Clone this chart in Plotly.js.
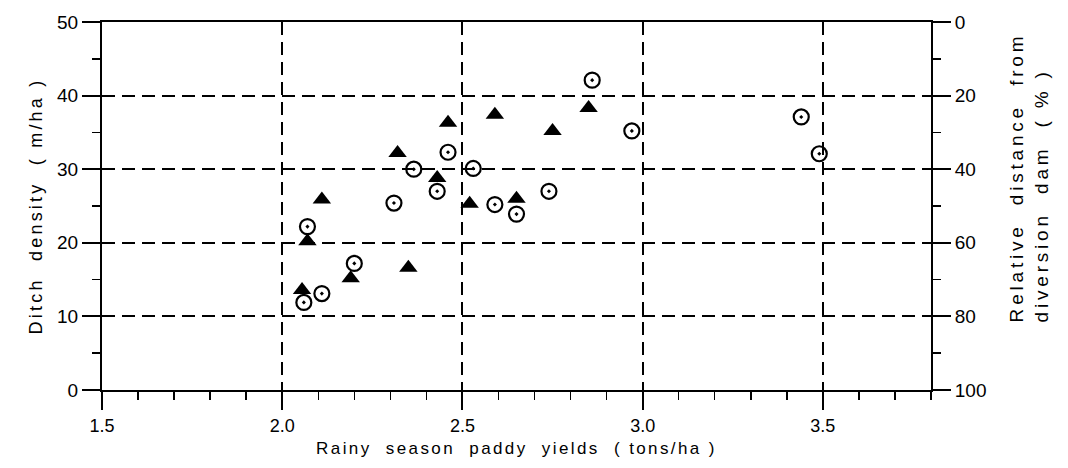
<!DOCTYPE html>
<html>
<head>
<meta charset="utf-8">
<script src="https://cdn.plot.ly/plotly-3.0.1.min.js"></script>
<style>
html,body{margin:0;padding:0;background:#fff;}
#chart{width:1068px;height:468px;}
.g-ytitle text{letter-spacing:3.2px;}
.g-xtitle text{letter-spacing:2.4px;}
.annotation-text-g text{letter-spacing:3.8px;}
</style>
</head>
<body>
<div id="chart"></div>
<script>
// Triangles (solid)
const triX = [2.46, 2.59, 2.32, 2.43, 2.11, 2.52, 2.65, 2.07, 2.19, 2.35, 2.055, 2.85, 2.75];
const triY = [36.3, 37.4, 32.2, 28.8, 25.9, 25.3, 26.0, 20.2, 15.2, 16.6, 13.6, 38.3, 35.2];
// Dotted circles
const cirX = [2.46, 2.365, 2.53, 2.43, 2.31, 2.59, 2.65, 2.07, 2.20, 2.11, 2.06, 2.86, 2.97, 2.74, 3.44, 3.49];
const cirY = [32.3, 30.0, 30.1, 27.0, 25.4, 25.2, 23.9, 22.2, 17.2, 13.1, 11.9, 42.1, 35.2, 27.0, 37.1, 32.1];
// Tick values
const xTicks = [1.5, 2.0, 2.5, 3.0, 3.5];
const yTicks = [0, 10, 20, 30, 40, 50];
const y2Ticks = [0, 20, 40, 60, 80, 100];

const FONT = 'Liberation Sans, Arial, sans-serif';
const sp = '\u00a0';

const traces = [
  {x: triX, y: triY, mode: 'markers', type: 'scatter',
   marker: {symbol: 'triangle-up', size: 16, color: '#000', line: {width: 0}},
   hoverinfo: 'skip', showlegend: false},
  {x: cirX, y: cirY, mode: 'markers', type: 'scatter',
   marker: {symbol: 'circle-open-dot', size: 15, color: '#000', line: {width: 2.2, color: '#000'}},
   hoverinfo: 'skip', showlegend: false},
  {x: [], y: [], yaxis: 'y2', type: 'scatter', mode: 'markers', showlegend: false, hoverinfo: 'skip'}
];

const layout = {
  width: 1068, height: 468,
  margin: {l: 102, r: 137, t: 22, b: 78},
  paper_bgcolor: '#fff', plot_bgcolor: '#fff',
  font: {family: FONT, color: '#000', size: 18},
  showlegend: false,
  xaxis: {
    range: [1.5, 3.8], tickvals: xTicks, ticktext: xTicks.map(v => v.toFixed(1)),
    ticks: 'outside', ticklen: 18, tickwidth: 2, tickcolor: '#000',
    minor: {dtick: 0.1, tick0: 1.5, ticks: 'outside', ticklen: 8, tickwidth: 1.5, tickcolor: '#000', showgrid: false},
    showline: true, linewidth: 2, linecolor: '#000', mirror: true,
    showgrid: true, gridcolor: '#000', gridwidth: 2, griddash: '13px,7px',
    zeroline: false,
    tickfont: {family: FONT, size: 18, color: '#000'},
    title: {text: 'Rainy' + sp + ' season' + sp + ' paddy' + sp + ' yields' + sp + ' ( tons/ha )',
            font: {family: FONT, size: 17, color: '#000'}, standoff: 8}
  },
  yaxis: {
    range: [0, 50], tickvals: yTicks,
    ticks: 'outside', ticklen: 18, tickwidth: 2, tickcolor: '#000',
    minor: {dtick: 5, tick0: 0, ticks: 'outside', ticklen: 8, tickwidth: 1.5, tickcolor: '#000', showgrid: false},
    showline: true, linewidth: 2, linecolor: '#000',
    showgrid: true, gridcolor: '#000', gridwidth: 2, griddash: '13px,7px',
    zeroline: false,
    tickfont: {family: FONT, size: 19, color: '#000'},
    title: {text: 'Ditch' + sp + sp + 'density' + sp + sp + '( m/ha )',
            font: {family: FONT, size: 18, color: '#000'}, standoff: 10}
  },
  yaxis2: {
    overlaying: 'y', side: 'right', range: [100, 0], tickvals: y2Ticks,
    ticks: 'outside', ticklen: 18, tickwidth: 2, tickcolor: '#000',
    minor: {dtick: 10, tick0: 0, ticks: 'outside', ticklen: 8, tickwidth: 1.5, tickcolor: '#000', showgrid: false},
    showline: true, linewidth: 2, linecolor: '#000',
    showgrid: false, zeroline: false,
    tickfont: {family: FONT, size: 19, color: '#000'}
  },
  annotations: [
    {xref: 'paper', yref: 'paper', x: 1.118, y: 0.455, xanchor: 'center', yanchor: 'middle',
     textangle: -90, align: 'left', showarrow: false,
     text: 'Relative' + sp + ' distance' + sp + ' from<br>diversion' + sp + ' dam' + sp + ' ( % )',
     font: {family: FONT, size: 19, color: '#000'}}
  ]
};

Plotly.newPlot('chart', traces, layout, {staticPlot: true, displayModeBar: false});
</script>
</body>
</html>
